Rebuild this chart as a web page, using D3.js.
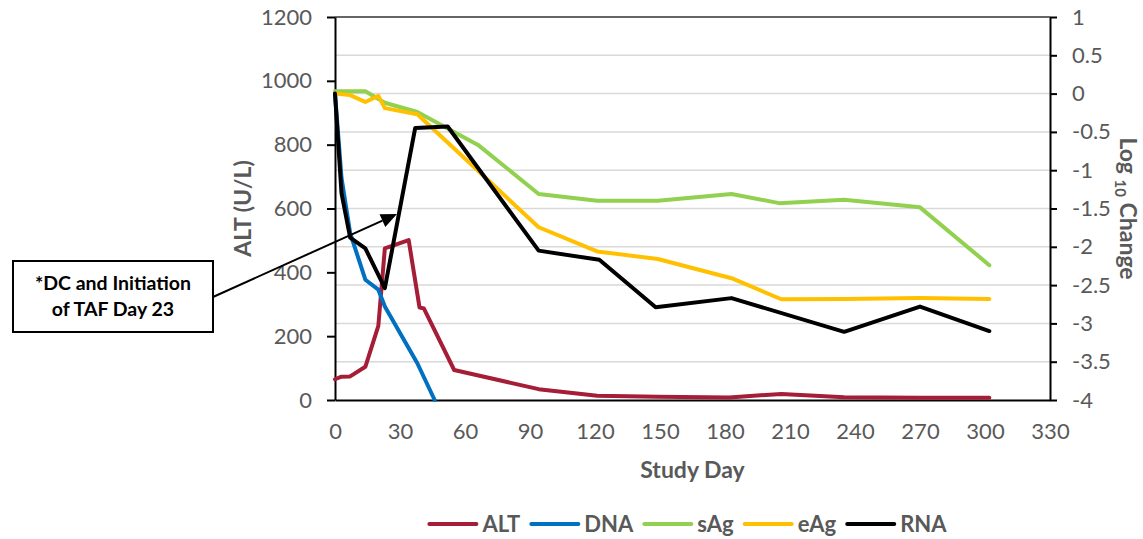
<!DOCTYPE html>
<html>
<head>
  <script src="https://d3js.org/d3.v7.min.js"></script>
  <style>
    body { margin: 0; background: #fff; }
    svg text { font-family: Lato, "Open Sans", sans-serif; fill: #595959; }
    .axis text { font-size: 22px; }
    .axis path, .axis line { stroke: #000; stroke-width: 2px; }
    .grid line { stroke: #d9d9d9; stroke-width: 1.5px; }
    .title { font-size: 23px; font-weight: bold; }
    .legend text { font-size: 22px; font-weight: bold; }
    .note text { font-size: 19.5px; font-weight: bold; fill: #000; }
  </style>
</head>
<body>
<script>
  // ALT, left axis (U/L)
  var altDays = [0, 3, 7, 14, 20, 23, 34, 39, 41, 55, 94, 121, 149, 182, 206, 235, 270, 302];
  var altValues = [65, 73, 74, 104, 232, 475, 501, 290, 287, 94, 34, 13, 10, 8, 19, 9, 7, 7];

  // log10 change series, right axis
  var dnaDays = [0, 3, 7, 14, 20, 23, 38, 46];
  var dnaValues = [0, -1.1, -1.82, -2.43, -2.56, -2.78, -3.52, -4.0];

  var sagDays = [0, 14, 23, 38, 66, 94, 121, 149, 183, 205, 235, 270, 302];
  var sagValues = [0.03, 0.03, -0.12, -0.24, -0.67, -1.31, -1.40, -1.40, -1.31, -1.43, -1.385, -1.485, -2.24];

  var eagDays = [0, 7, 14, 20, 23, 38, 94, 121, 149, 183, 206, 235, 270, 302];
  var eagValues = [0, -0.02, -0.11, -0.03, -0.19, -0.27, -1.745, -2.06, -2.16, -2.41, -2.685, -2.68, -2.67, -2.68];

  var rnaDays = [0, 3, 7, 14, 23, 37, 52, 94, 122, 148, 183, 235, 270, 302];
  var rnaValues = [0, -1.30, -1.88, -2.02, -2.54, -0.45, -0.43, -2.05, -2.17, -2.79, -2.67, -3.11, -2.78, -3.10];

  var xTicks = [0, 30, 60, 90, 120, 150, 180, 210, 240, 270, 300, 330];
  var leftTicks = [0, 200, 400, 600, 800, 1000, 1200];
  var rightTicks = [-4, -3.5, -3, -2.5, -2, -1.5, -1, -0.5, 0, 0.5, 1];

  var seriesNames = ["ALT", "DNA", "sAg", "eAg", "RNA"];
  var seriesColors = ["#a51d36", "#0070c0", "#92d050", "#ffc000", "#000000"];

  var width = 1143, height = 539;
  var plotL = 335, plotR = 1050, plotT = 17, plotB = 400;

  var svg = d3.select("body").append("svg")
    .attr("width", width)
    .attr("height", height);

  var x = d3.scaleLinear().domain([0, 330]).range([plotL, plotR]);
  var yL = d3.scaleLinear().domain([0, 1200]).range([plotB, plotT]);
  var yR = d3.scaleLinear().domain([-4, 1]).range([plotB, plotT]);

  // gridlines follow the secondary axis
  svg.append("g").attr("class", "grid")
    .selectAll("line")
    .data(rightTicks.filter(function(d) { return d > -4 && d < 1; }))
    .enter().append("line")
    .attr("x1", plotL).attr("x2", plotR)
    .attr("y1", function(d) { return yR(d); })
    .attr("y2", function(d) { return yR(d); });

  svg.append("line")
    .attr("x1", plotL).attr("x2", plotR)
    .attr("y1", plotT).attr("y2", plotT)
    .attr("stroke", "#333").attr("stroke-width", 1.5);

  var plain = function(d) { return String(d); };

  svg.append("g").attr("class", "axis")
    .attr("transform", "translate(" + plotL + ",0)")
    .call(d3.axisLeft(yL).tickValues(leftTicks).tickSize(8).tickSizeOuter(0).tickPadding(15).tickFormat(plain));

  svg.append("g").attr("class", "axis")
    .attr("transform", "translate(" + plotR + ",0)")
    .call(d3.axisRight(yR).tickValues(rightTicks).tickSize(7).tickSizeOuter(0).tickPadding(15).tickFormat(plain));

  svg.append("g").attr("class", "axis")
    .attr("transform", "translate(0," + plotB + ")")
    .call(d3.axisBottom(x).tickValues(xTicks).tickSize(0).tickSizeOuter(0).tickPadding(23).tickFormat(plain));

  // series
  var series = [
    { days: altDays, values: altValues, y: yL },
    { days: dnaDays, values: dnaValues, y: yR },
    { days: sagDays, values: sagValues, y: yR },
    { days: eagDays, values: eagValues, y: yR },
    { days: rnaDays, values: rnaValues, y: yR }
  ];

  series.forEach(function(s, i) {
    var line = d3.line()
      .x(function(d) { return x(s.days[d]); })
      .y(function(d) { return s.y(s.values[d]); });
    svg.append("path")
      .datum(d3.range(s.days.length))
      .attr("d", line)
      .attr("fill", "none")
      .attr("stroke", seriesColors[i])
      .attr("stroke-width", 4)
      .attr("stroke-linejoin", "round")
      .attr("stroke-linecap", "round");
  });

  // axis titles
  svg.append("text").attr("class", "title")
    .attr("transform", "translate(251," + ((plotT + plotB) / 2) + ") rotate(-90)")
    .attr("text-anchor", "middle")
    .text("ALT (U/L)");

  var rt = svg.append("text").attr("class", "title")
    .attr("transform", "translate(1120," + ((plotT + plotB) / 2) + ") rotate(90)")
    .attr("text-anchor", "middle");
  rt.append("tspan").text("Log ");
  rt.append("tspan").attr("font-size", "15px").attr("dy", 5).text("10");
  rt.append("tspan").attr("dy", -5).text(" Change");

  svg.append("text").attr("class", "title")
    .attr("x", (plotL + plotR) / 2).attr("y", 478)
    .attr("text-anchor", "middle")
    .text("Study Day");

  // legend
  var legend = svg.append("g").attr("class", "legend");
  var lx = 0;
  seriesNames.forEach(function(name, i) {
    legend.append("line")
      .attr("x1", lx).attr("x2", lx + 47)
      .attr("y1", 0).attr("y2", 0)
      .attr("stroke", seriesColors[i])
      .attr("stroke-width", 4)
      .attr("stroke-linecap", "round");
    var t = legend.append("text")
      .attr("x", lx + 53).attr("y", 8)
      .text(name);
    lx += 53 + t.node().getComputedTextLength() + 11;
  });
  legend.attr("transform", "translate(" + (688 - (lx - 11) / 2) + ",524)");

  // annotation
  var note = svg.append("g").attr("class", "note");
  note.append("rect")
    .attr("x", 13).attr("y", 261)
    .attr("width", 200).attr("height", 71)
    .attr("fill", "#fff").attr("stroke", "#000").attr("stroke-width", 2);
  note.append("text").attr("x", 113).attr("y", 290).attr("text-anchor", "middle").text("*DC and Initiation");
  note.append("text").attr("x", 113).attr("y", 316).attr("text-anchor", "middle").text("of TAF Day 23");

  var ax1 = 213, ay1 = 297, ax2 = 397, ay2 = 214;
  var ang = Math.atan2(ay2 - ay1, ax2 - ax1);
  var hl = 16, hw = 7;
  var bx = ax2 - hl * Math.cos(ang), by = ay2 - hl * Math.sin(ang);
  note.append("line")
    .attr("x1", ax1).attr("y1", ay1).attr("x2", bx).attr("y2", by)
    .attr("stroke", "#000").attr("stroke-width", 2);
  note.append("path")
    .attr("d", "M" + ax2 + "," + ay2 +
      "L" + (bx + hw * Math.sin(ang)) + "," + (by - hw * Math.cos(ang)) +
      "L" + (bx - hw * Math.sin(ang)) + "," + (by + hw * Math.cos(ang)) + "Z")
    .attr("fill", "#000");
</script>
</body>
</html>
